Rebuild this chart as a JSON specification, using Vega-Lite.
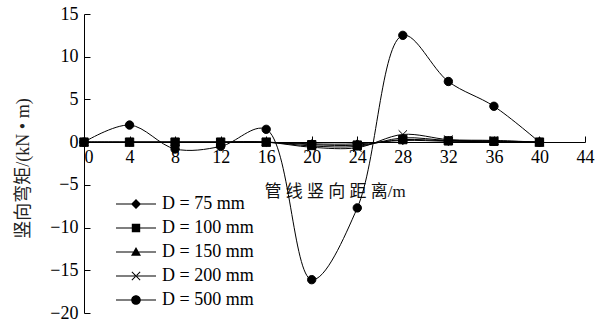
{
  "$schema": "https://vega.github.io/schema/vega-lite/v6.json",
  "width": 501,
  "height": 299,
  "autosize": "none",
  "padding": {"left": 84, "top": 14, "right": 10, "bottom": 11},
  "background": "white",
  "config": {"view": {"stroke": null}, "font": "Liberation Serif"},
  "data": {"values": [
    {"D": "D = 75 mm", "x": 0, "m": 0}, {"D": "D = 75 mm", "x": 4, "m": 0}, {"D": "D = 75 mm", "x": 8, "m": 0}, {"D": "D = 75 mm", "x": 12, "m": 0}, {"D": "D = 75 mm", "x": 16, "m": 0}, {"D": "D = 75 mm", "x": 20, "m": -0.2}, {"D": "D = 75 mm", "x": 24, "m": -0.2}, {"D": "D = 75 mm", "x": 28, "m": 0.2}, {"D": "D = 75 mm", "x": 32, "m": 0.1}, {"D": "D = 75 mm", "x": 36, "m": 0.05}, {"D": "D = 75 mm", "x": 40, "m": 0},
    {"D": "D = 100 mm", "x": 0, "m": 0}, {"D": "D = 100 mm", "x": 4, "m": 0}, {"D": "D = 100 mm", "x": 8, "m": 0}, {"D": "D = 100 mm", "x": 12, "m": 0}, {"D": "D = 100 mm", "x": 16, "m": 0}, {"D": "D = 100 mm", "x": 20, "m": -0.3}, {"D": "D = 100 mm", "x": 24, "m": -0.35}, {"D": "D = 100 mm", "x": 28, "m": 0.3}, {"D": "D = 100 mm", "x": 32, "m": 0.15}, {"D": "D = 100 mm", "x": 36, "m": 0.1}, {"D": "D = 100 mm", "x": 40, "m": 0},
    {"D": "D = 150 mm", "x": 0, "m": 0}, {"D": "D = 150 mm", "x": 4, "m": 0}, {"D": "D = 150 mm", "x": 8, "m": 0}, {"D": "D = 150 mm", "x": 12, "m": 0}, {"D": "D = 150 mm", "x": 16, "m": 0}, {"D": "D = 150 mm", "x": 20, "m": -0.45}, {"D": "D = 150 mm", "x": 24, "m": -0.5}, {"D": "D = 150 mm", "x": 28, "m": 0.5}, {"D": "D = 150 mm", "x": 32, "m": 0.2}, {"D": "D = 150 mm", "x": 36, "m": 0.15}, {"D": "D = 150 mm", "x": 40, "m": 0},
    {"D": "D = 200 mm", "x": 0, "m": 0}, {"D": "D = 200 mm", "x": 4, "m": 0}, {"D": "D = 200 mm", "x": 8, "m": 0}, {"D": "D = 200 mm", "x": 12, "m": 0}, {"D": "D = 200 mm", "x": 16, "m": 0}, {"D": "D = 200 mm", "x": 20, "m": -0.6}, {"D": "D = 200 mm", "x": 24, "m": -0.65}, {"D": "D = 200 mm", "x": 28, "m": 0.9}, {"D": "D = 200 mm", "x": 32, "m": 0.3}, {"D": "D = 200 mm", "x": 36, "m": 0.2}, {"D": "D = 200 mm", "x": 40, "m": 0},
    {"D": "D = 500 mm", "x": 0, "m": 0}, {"D": "D = 500 mm", "x": 4, "m": 2.0}, {"D": "D = 500 mm", "x": 8, "m": -0.8}, {"D": "D = 500 mm", "x": 12, "m": -0.5}, {"D": "D = 500 mm", "x": 16, "m": 1.5}, {"D": "D = 500 mm", "x": 20, "m": -16.1}, {"D": "D = 500 mm", "x": 24, "m": -7.7}, {"D": "D = 500 mm", "x": 28, "m": 12.5}, {"D": "D = 500 mm", "x": 32, "m": 7.1}, {"D": "D = 500 mm", "x": 36, "m": 4.2}, {"D": "D = 500 mm", "x": 40, "m": 0}
  ]},
  "encoding": {
    "x": {
      "field": "x", "type": "quantitative",
      "scale": {"domain": [0, 44], "nice": false, "zero": false},
      "axis": {
        "values": [0, 4, 8, 12, 16, 20, 24, 28, 32, 36, 40, 44],
        "orient": "bottom", "offset": -171, "grid": false,
        "title": "管 线 竖 向 距 离/m",
        "titleFont": "Liberation Serif, Noto Sans CJK SC", "titleFontSize": 17, "titleFontWeight": "normal", "titleColor": "#111", "titlePadding": 17,
        "labelFont": "Liberation Serif", "labelFontSize": 18, "labelColor": "black", "labelPadding": 12,
        "labelAlign": {"expr": "datum.value === 0 ? 'left' : 'center'"},
        "labelFlush": false, "labelOverlap": false,
        "tickSize": -6, "tickColor": "black", "domainColor": "black", "tickWidth": 1, "domainWidth": 1
      }
    },
    "y": {
      "field": "m", "type": "quantitative",
      "scale": {"domain": [-20, 15], "nice": false, "zero": false},
      "axis": {
        "values": [-20, -15, -10, -5, 0, 5, 10, 15], "grid": false,
        "title": "竖向弯矩/(kN • m)",
        "titleFont": "Liberation Serif, Noto Sans CJK SC", "titleFontSize": 18, "titleFontWeight": "normal", "titleColor": "#222", "titlePadding": 17, "titleY": 154,
        "labelFont": "Liberation Serif", "labelFontSize": 18, "labelColor": "black", "labelPadding": 12,
        "tickSize": -6, "tickColor": "black", "domainColor": "black", "tickWidth": 1, "domainWidth": 1
      }
    }
  },
  "layer": [
    {
      "mark": {"type": "line", "interpolate": "catmull-rom", "color": "black", "strokeWidth": 1},
      "encoding": {"detail": {"field": "D"}}
    },
    {
      "mark": {"type": "point", "filled": true, "color": "black", "stroke": "black", "strokeWidth": 1, "size": 70, "opacity": 1},
      "encoding": {
        "shape": {
          "field": "D", "type": "nominal",
          "scale": {
            "domain": ["D = 75 mm", "D = 100 mm", "D = 150 mm", "D = 200 mm", "D = 500 mm"],
            "range": ["diamond", "square", "triangle-up", "M-1,-1L1,1M-1,1L1,-1", "circle"]
          },
          "legend": null
        }
      }
    },
    {
      "transform": [{"filter": "false"}],
      "mark": {"type": "point", "filled": true, "color": "black", "size": 400, "opacity": 1},
      "encoding": {
        "shape": {
          "field": "E", "type": "nominal",
          "scale": {
            "domain": ["D = 75 mm", "D = 100 mm", "D = 150 mm", "D = 200 mm", "D = 500 mm"],
            "range": [
              "M-2,-0.05H2V0.05H-2Z M-0.5,0L0,-0.5L0.5,0L0,0.5Z",
              "M-2,-0.05H2V0.05H-2Z M-0.42,-0.42H0.42V0.42H-0.42Z",
              "M-2,-0.05H2V0.05H-2Z M0,-0.5L0.5,0.38H-0.5Z",
              "M-2,-0.05H2V0.05H-2Z M-0.45,-0.38L-0.38,-0.45L0.45,0.38L0.38,0.45Z M-0.45,0.38L-0.38,0.45L0.45,-0.38L0.38,-0.45Z",
              "M-2,-0.05H2V0.05H-2Z M0.48,0A0.48,0.48,0,1,1,-0.48,0A0.48,0.48,0,1,1,0.48,0Z"
            ]
          },
          "legend": {
            "orient": "none", "legendX": 29, "legendY": 179, "title": null,
            "labelFont": "Liberation Serif", "labelFontSize": 18, "labelColor": "black",
            "symbolSize": 400, "symbolOffset": 12, "labelOffset": 15, "rowPadding": 4,
            "symbolFillColor": "black", "symbolOpacity": 1
          }
        }
      }
    }
  ],
  "resolve": {"scale": {"shape": "independent"}, "legend": {"shape": "independent"}}
}
